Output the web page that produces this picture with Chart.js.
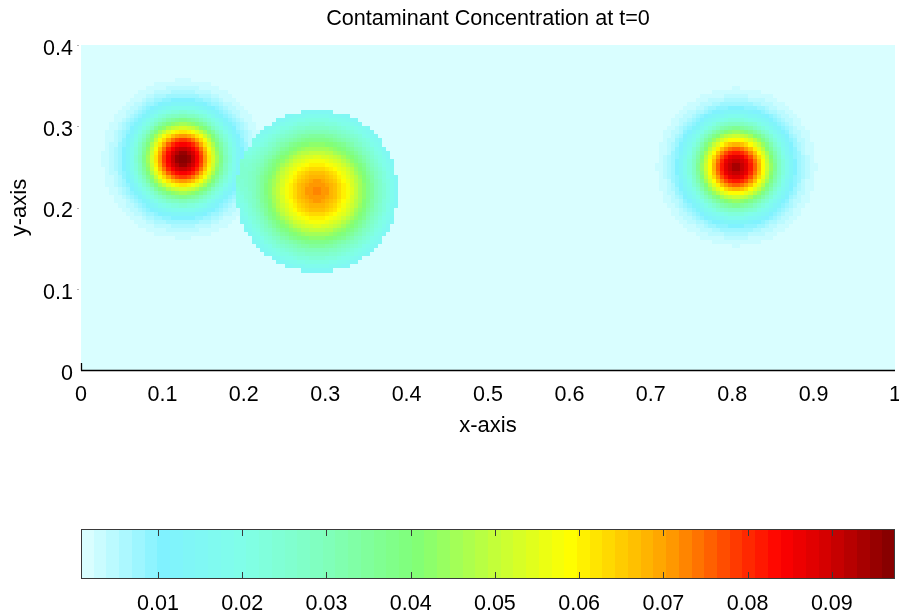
<!DOCTYPE html>
<html>
<head>
<meta charset="utf-8">
<script src="https://cdn.jsdelivr.net/npm/chart.js@4.4.1/dist/chart.umd.min.js"></script>
<style>
  html, body { margin: 0; padding: 0; background: #ffffff; }
  #wrap { position: relative; width: 899px; height: 616px; overflow: hidden; background: #ffffff; }
  #mainBox { position: absolute; left: 0; top: 0; width: 899px; height: 460px; }
  #cbarBox { position: absolute; left: 0; top: 500px; width: 899px; height: 116px; }
</style>
</head>
<body>
<div id="wrap">
  <div id="mainBox"><canvas id="main" width="899" height="460"></canvas></div>
  <div id="cbarBox"><canvas id="cbar" width="899" height="116"></canvas></div>
</div>
<script>
// ---------------- data ----------------
const titleText = 'Contaminant Concentration at t=0';
const xLabel = 'x-axis';
const yLabel = 'y-axis';
const xTickValues = [0, 0.1, 0.2, 0.3, 0.4, 0.5, 0.6, 0.7, 0.8, 0.9, 1];
const xTickLabels = ['0', '0.1', '0.2', '0.3', '0.4', '0.5', '0.6', '0.7', '0.8', '0.9', '1'];
const yTickValues = [0, 0.1, 0.2, 0.3, 0.4];
const yTickLabels = ['0', '0.1', '0.2', '0.3', '0.4'];
const cbarTickValues = [0.01, 0.02, 0.03, 0.04, 0.05, 0.06, 0.07, 0.08, 0.09];
const cbarTickLabels = ['0.01', '0.02', '0.03', '0.04', '0.05', '0.06', '0.07', '0.08', '0.09'];
const cbarMin = 0.00086;
const cbarMax = 0.0975;

// contaminant sources at t=0 (centre, peak above background, spread, support radius)
const backgroundConc = 0.00086;
const sourceX = [0.125, 0.290, 0.805];
const sourceY = [0.260, 0.220, 0.250];
const sourcePeak = [0.0966, 0.0715, 0.0930];
const sourceSpread = [0.034, 0.055, 0.034];
const sourceRadius = [1.0, 0.100, 1.0];
const gridStep = 0.005;
const domainX = [0, 1];
const domainY = [0, 0.4];

// colormap stops (position along colour bar, RGB)
const mapPositions = [0.00, 0.10, 0.20, 0.30, 0.41, 0.51, 0.60, 0.72, 0.82, 0.86, 0.92, 1.00];
const mapColors = [
  [224, 255, 255], [128, 242, 255], [128, 255, 232], [128, 255, 188],
  [128, 255, 120], [196, 255, 56], [255, 255, 0], [255, 160, 0],
  [255, 40, 0], [255, 0, 0], [208, 0, 0], [128, 0, 0]
];
const mapLevels = 64;

// ---------------- helpers ----------------
const FONT = "'Liberation Sans', Arial, Helvetica, sans-serif";

function mapColorAt(t) {
  if (t <= mapPositions[0]) return mapColors[0];
  for (let i = 1; i < mapPositions.length; i++) {
    if (t <= mapPositions[i]) {
      const f = (t - mapPositions[i - 1]) / (mapPositions[i] - mapPositions[i - 1]);
      const a = mapColors[i - 1], b = mapColors[i];
      return [0, 1, 2].map(k => Math.round(a[k] + (b[k] - a[k]) * f));
    }
  }
  return mapColors[mapColors.length - 1];
}
const levelColors = [];
for (let k = 0; k < mapLevels; k++) {
  const c = mapColorAt((k + 0.5) / mapLevels);
  levelColors.push('rgb(' + c.join(',') + ')');
}
function levelOf(v) {
  let k = Math.floor((v - cbarMin) / (cbarMax - cbarMin) * mapLevels);
  return Math.max(0, Math.min(mapLevels - 1, k));
}

// build the concentration field on the grid
const cells = [];
const nx = Math.round((domainX[1] - domainX[0]) / gridStep);
const ny = Math.round((domainY[1] - domainY[0]) / gridStep);
for (let i = 0; i < nx; i++) {
  for (let j = 0; j < ny; j++) {
    const cx = domainX[0] + (i + 0.5) * gridStep;
    const cy = domainY[0] + (j + 0.5) * gridStep;
    let v = backgroundConc;
    for (let s = 0; s < sourceX.length; s++) {
      const dx = cx - sourceX[s], dy = cy - sourceY[s];
      const r2 = dx * dx + dy * dy;
      if (r2 <= sourceRadius[s] * sourceRadius[s]) {
        v += sourcePeak[s] * Math.exp(-r2 / (2 * sourceSpread[s] * sourceSpread[s]));
      }
    }
    cells.push({ x: cx, y: cy, v: v });
  }
}

// ---------------- plugins ----------------
const heatPlugin = {
  id: 'heatCells',
  beforeDatasetsDraw(chart) {
    const { ctx, chartArea, scales } = chart;
    const xs = scales.x, ys = scales.y;
    ctx.save();
    ctx.beginPath();
    ctx.rect(chartArea.left, chartArea.top, chartArea.right - chartArea.left, chartArea.bottom - chartArea.top);
    ctx.clip();
    const h = gridStep / 2;
    for (const c of cells) {
      const x0 = Math.round(xs.getPixelForValue(c.x - h));
      const x1 = Math.round(xs.getPixelForValue(c.x + h));
      const y0 = Math.round(ys.getPixelForValue(c.y + h));
      const y1 = Math.round(ys.getPixelForValue(c.y - h));
      ctx.fillStyle = levelColors[levelOf(c.v)];
      ctx.fillRect(x0, y0, x1 - x0, y1 - y0);
    }
    ctx.restore();
  },
  afterDraw(chart) {
    const { ctx, chartArea, scales } = chart;
    ctx.save();
    ctx.strokeStyle = '#000000';
    ctx.lineWidth = 1.3;
    ctx.beginPath();
    ctx.moveTo(chartArea.left, chartArea.bottom + 0.5);
    ctx.lineTo(chartArea.right, chartArea.bottom + 0.5);
    ctx.moveTo(chartArea.left + 0.5, chartArea.bottom - 7);
    ctx.lineTo(chartArea.left + 0.5, chartArea.bottom + 0.5);
    ctx.stroke();
    // faint outside tick dots next to the y labels
    ctx.fillStyle = '#b0b0b0';
    for (const v of yTickValues) {
      if (v === 0) continue;
      const py = Math.round(scales.y.getPixelForValue(v));
      ctx.fillRect(chartArea.left - 4, py, 2, 1);
    }
    ctx.restore();
  }
};

const cbarPlugin = {
  id: 'cbarBands',
  beforeDatasetsDraw(chart) {
    const { ctx, chartArea, scales } = chart;
    const xs = scales.x;
    const step = (cbarMax - cbarMin) / mapLevels;
    ctx.save();
    for (let k = 0; k < mapLevels; k++) {
      const x0 = Math.round(xs.getPixelForValue(cbarMin + k * step));
      const x1 = Math.round(xs.getPixelForValue(cbarMin + (k + 1) * step));
      ctx.fillStyle = levelColors[k];
      ctx.fillRect(x0, chartArea.top, x1 - x0, chartArea.bottom - chartArea.top);
    }
    ctx.strokeStyle = '#3a3a3a';
    ctx.lineWidth = 1;
    ctx.beginPath();
    for (const v of cbarTickValues) {
      const px = Math.round(xs.getPixelForValue(v)) + 0.5;
      ctx.moveTo(px, chartArea.top);
      ctx.lineTo(px, chartArea.top + 7);
      ctx.moveTo(px, chartArea.bottom);
      ctx.lineTo(px, chartArea.bottom - 7);
    }
    ctx.stroke();
    ctx.strokeRect(chartArea.left + 0.5, chartArea.top + 0.5, chartArea.right - chartArea.left - 1, chartArea.bottom - chartArea.top - 1);
    ctx.restore();
  }
};

// ---------------- main chart ----------------
const tickFont = { family: FONT, size: 21.5, lineHeight: 1 };
const labelFont = { family: FONT, size: 22, lineHeight: 1 };

new Chart(document.getElementById('main'), {
  type: 'scatter',
  data: { datasets: [{ data: [], pointRadius: 0 }] },
  options: {
    responsive: false,
    animation: false,
    events: [],
    layout: { padding: { left: 0, right: 4, top: 0, bottom: 0 } },
    plugins: {
      legend: { display: false },
      tooltip: { enabled: false },
      title: {
        display: true,
        text: titleText,
        fullSize: false,
        color: '#000000',
        font: { family: FONT, size: 21.6, weight: 'normal', lineHeight: 1 },
        padding: { top: 8, bottom: 15.4 }
      }
    },
    scales: {
      x: {
        type: 'linear',
        min: domainX[0],
        max: domainX[1],
        afterBuildTicks: s => { s.ticks = xTickValues.map(v => ({ value: v })); },
        afterFit: s => { s.height = 90; s.paddingLeft = 0; s.paddingRight = 0; },
        ticks: {
          autoSkip: false, maxRotation: 0, color: '#000000', font: tickFont, padding: 14.5,
          callback: (v) => xTickLabels[xTickValues.indexOf(v)]
        },
        grid: { display: false, drawTicks: false },
        border: { display: false },
        title: {
          display: true, text: xLabel, color: '#000000',
          font: labelFont,
          padding: { top: 0, bottom: 23.5 }
        }
      },
      y: {
        type: 'linear',
        min: domainY[0],
        max: domainY[1],
        afterBuildTicks: s => { s.ticks = yTickValues.map(v => ({ value: v })); },
        afterFit: s => { s.width = 81; s.paddingTop = 0; s.paddingBottom = 0; },
        ticks: {
          autoSkip: false, color: '#000000', font: tickFont, padding: 8, labelOffset: 4,
          callback: (v) => yTickLabels[yTickValues.indexOf(v)]
        },
        grid: { display: false, drawTicks: false },
        border: { display: false },
        title: {
          display: true, text: yLabel, color: '#000000',
          font: labelFont,
          padding: { top: 9, bottom: 0 }
        }
      }
    }
  },
  plugins: [heatPlugin]
});

// ---------------- colour bar ----------------
new Chart(document.getElementById('cbar'), {
  type: 'scatter',
  data: { datasets: [{ data: [], pointRadius: 0 }] },
  options: {
    responsive: false,
    animation: false,
    events: [],
    layout: { padding: { left: 81, right: 4, top: 29, bottom: 0 } },
    plugins: { legend: { display: false }, tooltip: { enabled: false }, title: { display: false } },
    scales: {
      x: {
        type: 'linear',
        min: cbarMin,
        max: cbarMax,
        afterBuildTicks: s => { s.ticks = cbarTickValues.map(v => ({ value: v })); },
        afterFit: s => { s.height = 37; s.paddingLeft = 0; s.paddingRight = 0; },
        ticks: {
          autoSkip: false, maxRotation: 0, color: '#000000', font: tickFont, padding: 14.5,
          callback: (v) => cbarTickLabels[cbarTickValues.indexOf(v)]
        },
        grid: { display: false, drawTicks: false },
        border: { display: false }
      },
      y: { display: false, min: 0, max: 1 }
    }
  },
  plugins: [cbarPlugin]
});
</script>
</body>
</html>
